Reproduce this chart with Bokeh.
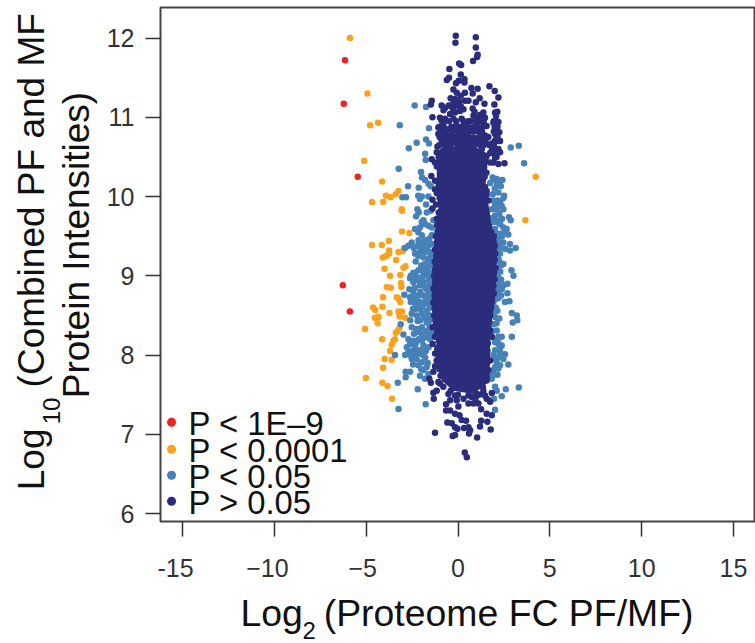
import math
from bokeh.plotting import figure
from bokeh.models import Label, FixedTicker
from bokeh.embed import file_html
from bokeh.resources import INLINE

# Values: (log2 fold change, log10 intensity)
red_pts = [(-6.15,11.72),(-6.22,11.17),(-5.46,10.25),(-6.27,8.88),(-5.89,8.55)]

orange_pts = [(-5.88,12.0),(-4.93,11.30),(-4.79,10.90),(-4.35,10.93),(-5.11,10.45),(-4.13,10.19),(4.23,10.25),(3.67,9.70),
 (-4.68,9.93),(-4.08,9.93),(-3.92,10.01),(-3.66,9.99),(-3.39,10.03),(-3.24,10.07),(-3.06,9.84),(-3.06,9.82),
 (-4.68,9.39),(-4.15,9.39),(-3.77,9.44),(-3.75,9.32),(-3.75,9.28),(-3.92,9.25),(-4.10,9.23),(-3.37,9.20),(-3.24,9.30),
 (-3.01,9.31),(-2.94,9.35),(-3.05,9.56),(-2.65,9.54),(-4.0,9.09),(-3.70,9.0),(-3.14,9.01),(-2.97,9.10),(-2.86,9.12),
 (-3.10,8.91),(-3.08,8.86),(-3.88,8.86),(-3.66,8.85),(-4.08,8.73),(-3.33,8.73),(-3.23,8.71),(-3.15,8.67),(-4.62,8.60),
 (-4.51,8.57),(-4.12,8.61),(-3.73,8.53),(-3.24,8.55),(-3.06,8.55),(-3.19,8.49),(-4.53,8.47),(-4.33,8.48),(-4.37,8.40),
 (-2.88,8.47),(-5.06,8.33),(-3.19,8.34),(-3.30,8.30),(-3.39,8.28),(-4.13,8.20),(-3.43,8.20),(-3.52,8.18),(-3.61,8.13),
 (-3.70,8.05),(-3.99,7.95),(-3.61,7.94),(-4.08,7.84),(-5.02,7.71),(-4.12,7.65),(-3.84,7.61),(-3.59,7.45)]

blue_pts = [(-2.36,11.15),(-1.74,11.13),(-3.17,10.90),(-1.58,10.86),(-1.74,10.72),(-1.58,10.67),(-2.25,10.68),(-2.68,10.61),
 (-1.79,10.54),(-1.76,10.46),(-3.23,10.35),(-2.01,10.31),(-1.96,10.24),(-1.79,10.21),(-2.72,10.13),(-2.14,10.11),
 (-1.61,10.16),(-1.48,10.13),(-3.03,9.99),(-2.83,9.99),(-2.17,10.01),(-2.07,9.97),(-1.97,10.0),(-1.61,10.0),(-1.74,9.90),
 (-2.21,9.84),(-2.14,9.80),(-1.70,9.80),(-1.48,9.82),(-2.28,9.75),(-1.97,9.68),(-1.79,9.65),(-2.07,9.61),(-2.34,9.59),
 (-1.61,9.63),(-1.43,9.61),(-1.88,9.70),(-1.34,9.70),
 (2.87,10.62),(3.31,10.64),(3.60,10.42),(1.89,10.24),(2.11,10.22),(2.42,10.21),(1.75,10.17),(2.11,10.16),(2.33,10.13),
 (1.89,10.03),(2.51,10.01),(2.47,9.98),(2.02,9.90),(2.38,9.88),(1.84,9.84),(2.11,9.84),(2.47,9.84),(2.02,9.76),(1.84,9.73),
 (2.78,9.74),(2.87,9.70),(2.2,9.67),(2.47,9.61),(2.02,9.59),(2.65,9.59),
 (1.95,10.22),(2.25,10.18),(2.0,10.1),(2.2,10.05),(1.9,9.95),(2.15,9.95),(2.3,9.92),(1.95,9.85),(2.25,9.78),(2.4,9.72),
 (2.1,9.7),(2.3,9.65),(2.55,9.55),(2.4,9.5),(1.95,9.68),
 (-2.16,9.55),(-1.97,9.51),(-1.43,9.51),(-1.16,9.55),(-2.52,9.42),(-2.7,9.38),(-2.88,9.35),(-2.07,9.38),(-1.61,9.38),
 (-1.43,9.40),(-1.7,9.34),(-1.79,9.30),(-2.07,9.30),(-2.34,9.28),(-2.16,9.25),(-1.88,9.23),(-1.52,9.30),(-1.61,9.21),
 (-1.43,9.17),(-1.79,9.15),(-1.7,9.09),(-1.97,9.07),(-2.16,9.07),(-2.43,9.04),(-2.57,9.0),(-2.61,8.97),(-2.25,8.98),
 (-1.97,8.98),(-1.79,9.02),(-1.52,9.04),(-2.16,8.94),(-1.88,8.92),(-1.61,8.94),(-2.07,8.88),(-1.79,8.86),(-1.52,8.88),
 (-2.65,8.83),(-2.43,8.81),(-2.92,8.76),(-2.61,8.73),(-2.57,8.67),(-2.39,8.69),(-2.16,8.75),(-1.88,8.75),(-1.61,8.77),
 (-1.48,8.81),(-2.07,8.67),(-1.79,8.65),(-1.52,8.69),(-2.34,8.58),(-2.07,8.58),(-1.7,8.56),(-2.52,8.52),(-2.25,8.50),
 (-1.97,8.52),(-1.61,8.50),(-3.12,8.39),(-2.52,8.35),(-2.25,8.33),(-1.97,8.35),(-1.7,8.41),(-1.52,8.45),(-2.97,8.26),
 (-2.25,8.29),(-1.97,8.25),(-1.56,8.25),(-1.52,8.20),(-2.7,8.20),(-2.43,8.18),(-2.61,8.14),(-2.79,8.10),(-2.34,8.10),
 (-1.97,8.18),(-1.88,8.12),(-2.07,8.06),(-2.7,8.04),(-2.88,8.0),(-3.43,8.0),(-2.52,7.95),(-2.34,8.0),(-2.07,8.02),
 (-1.79,7.97),(-1.97,7.91),(-2.16,7.87),(-2.25,7.95),(-2.61,7.79),(-2.85,7.79),(-2.85,7.72),(-1.88,7.81),(-2.07,7.74),
 (-1.61,7.76),(-3.28,7.65),(-2.19,7.57),(-1.76,7.38),(-3.24,7.32),
 (-2.43,8.92),(-2.3,8.62),(-2.6,8.44),(-2.2,8.43),(-2.4,8.27),(-2.15,8.2),(-2.6,8.0),(-1.75,8.05),(-2.45,7.88),(-1.9,9.42),
 (-2.3,9.18),(-2.0,9.13),(-1.55,9.12),(-1.45,8.95),(-1.5,8.6),(-1.55,8.35),(-1.6,8.1),(-2.35,8.85),(-2.05,8.8),(-1.8,9.45),
 (-1.6,9.45),(-1.5,9.25),(-1.9,9.35),(-1.65,9.12),(-1.55,8.98),(-1.9,9.0),(-2.0,8.9),(-1.7,8.83),(-1.45,8.73),(-1.75,8.7),
 (-1.95,8.6),(-1.55,8.62),(-1.8,8.47),(-1.6,8.42),(-2.05,8.44),(-1.75,8.3),(-2.1,8.3),(-1.5,8.3),(-1.8,8.22),(-2.3,8.15),
 (-2.5,8.05),(-2.2,8.05),(-1.9,8.0),(-1.65,7.9),(-2.45,7.98),(-2.0,7.82),(-1.8,7.7),(-1.7,7.85),(-2.15,9.45),(-2.4,9.35),
 (-2.2,9.38),(-1.55,9.47),(-1.5,9.0),(-2.3,9.0),(-2.45,8.75),(-2.45,8.58),(-2.2,8.68),(-1.55,8.5),(-1.4,8.25),
 (2.02,9.55),(2.29,9.53),(2.74,9.52),(2.11,9.46),(2.47,9.42),(2.83,9.40),(3.14,9.35),(2.83,9.32),(2.29,9.36),(2.56,9.34),
 (2.11,9.38),(2.29,9.28),(2.2,9.21),(2.47,9.15),(2.34,9.13),(2.11,9.07),(2.91,9.07),(3.02,9.0),(2.29,8.90),(2.47,8.88),
 (2.69,8.90),(2.38,8.83),(2.2,8.81),(2.02,8.75),(2.69,8.78),(2.11,8.71),(2.56,8.67),(2.8,8.68),(1.93,8.67),(2.14,8.56),
 (2.02,8.48),(2.93,8.53),(3.2,8.50),(3.23,8.44),(2.98,8.41),(2.25,8.46),(1.93,8.39),(2.11,8.31),(2.2,8.23),(2.38,8.23),
 (2.93,8.23),(2.02,8.16),(2.2,8.14),(2.38,8.12),(2.02,8.06),(2.29,8.04),(2.56,8.01),(1.93,8.0),(2.47,7.95),(2.11,7.91),
 (2.74,7.88),(2.29,7.87),(2.02,7.85),(1.93,7.81),(2.2,7.83),(1.87,7.76),(1.84,7.70),(2.02,7.60),(2.6,7.57),(3.31,7.59),
 (2.11,7.55),(1.96,7.45),(2.38,7.48),(1.75,7.43),(2.02,7.31),
 (1.95,9.48),(2.2,9.45),(2.2,9.3),(2.25,9.18),(2.3,9.05),(2.2,8.98),(2.15,8.87),(2.35,8.95),(2.2,8.72),(2.35,8.75),(2.05,8.6),
 (1.95,8.55),(2.1,8.4),(2.0,8.2),(1.85,8.3),(2.15,8.18),(2.3,8.1),(2.1,7.97),(2.25,7.98),(2.0,7.95),(2.15,7.75),(1.95,7.75),(2.3,9.42)]

navy_pts = [(-0.12,12.03),(0.97,12.01),(-0.14,11.94),(0.97,11.88),(1.07,11.79),(1.04,11.76),(0.82,11.71),(0.06,11.68),(0.17,11.66),
 (-0.47,11.61),(0.15,11.54),(-0.49,11.50),(-0.61,11.47),(0.35,11.48),(0.35,11.44),(0.04,11.46),(-0.11,11.43),(0.73,11.37),
 (1.07,11.36),(1.71,11.39),(2.0,11.33),(2.2,11.25),(-0.25,11.35),(-0.07,11.31),(0.8,11.30),(0.38,11.31),(-0.4,11.24),
 (-0.16,11.23),(0.15,11.27),(0.38,11.21),(0.57,11.21),(1.18,11.24),(0.97,11.19),(1.44,11.17),(1.98,11.16),(-1.43,11.21),
 (-1.48,11.16),(-0.89,11.15),(-0.79,11.09),(-0.25,11.08),(0.11,11.10),(0.8,11.11),(-1.39,11.0),(-0.98,10.995),
 (-0.43,11.04),(-0.16,11.06),(0.11,11.08),(0.84,11.02),(1.11,10.995),(1.38,11.06),(1.47,10.995),(2.02,11.06),(2.14,11.07),
 (2.07,11.02),(2.2,10.94),(1.93,10.93),(1.29,10.955),(0.66,10.95),(0.2,10.98),(-0.25,10.98),(-0.7,10.98),(-0.89,10.955),
 (-1.07,10.87),(-0.79,10.89),(-0.52,10.85),(-0.07,10.83),(0.29,10.87),(0.75,10.87),(1.2,10.85),(1.56,10.89),(2.11,10.87),
 (2.25,10.81),(-1.07,10.79),(-0.52,10.77),(0.11,10.79),(0.84,10.745),(1.47,10.77),(2.02,10.79),(2.29,10.70),(-0.89,10.71),
 (-0.25,10.68),(0.29,10.77),(1.02,10.70),(1.84,10.67),(2.11,10.745),(-1.12,10.63),(-1.16,10.56),(2.2,10.60),(2.29,10.56),
 (2.02,10.49),(1.56,10.51),(-1.43,10.47),(-1.25,10.43),(2.53,10.42),(2.2,10.41),(1.93,10.43),(-1.45,10.26),(-1.25,10.2),
 (-1.25,10.09),(-1.39,9.96),(-1.39,9.85),(1.56,10.07),(1.65,9.95),(1.56,9.78),(1.47,9.67),
 (-1.38,8.35),(-1.25,8.23),(-1.38,8.14),(-1.07,8.10),(-1.25,8.02),(-1.16,7.93),(-1.25,7.86),(-1.34,7.79),(-1.56,7.70),
 (-1.48,7.65),(-1.07,7.66),(-1.16,7.55),(-1.34,7.525),(-1.32,7.45),(-0.8,7.6),(-0.98,7.64),(-0.52,7.51),(-0.16,7.49),
 (-0.07,7.43),(-0.43,7.43),(-0.65,7.38),(0.57,7.39),(0.84,7.39),(1.11,7.39),(0.57,7.49),(1.02,7.51),(1.38,7.55),(1.47,7.49),
 (1.75,7.41),(1.84,7.52),(1.56,7.45),(0.02,7.35),(-0.65,7.30),(-0.43,7.30),(-0.16,7.26),(0.08,7.24),(1.26,7.315),(1.56,7.26),
 (1.84,7.24),(0.2,7.18),(0.44,7.17),(-0.58,7.15),(-0.34,7.14),(-0.16,7.09),(-0.03,7.07),(0.33,7.08),(0.57,7.09),(0.66,7.05),
 (0.6,7.01),(1.26,7.17),(1.2,7.10),(1.6,7.16),(1.78,7.06),(-1.25,7.02),(-0.29,6.98),(-0.16,6.99),(1.04,6.96),(0.37,6.77),
 (0.48,6.71),(1.56,7.72),(1.65,7.81),(1.75,7.93),(1.56,7.68),(1.84,8.23),(1.75,8.31),
 (-0.8,10.95),(-0.5,10.95),(-0.1,10.95),(0.3,10.95),(0.55,10.95),(0.95,10.95),(1.15,10.95),(1.4,10.95),(1.95,10.95),(2.1,10.95),
 (-1.0,10.88),(-0.85,10.88),(-0.35,10.88),(-0.15,10.88),(0.05,10.88),(0.25,10.88),(0.5,10.88),(0.9,10.88),(1.05,10.88),(1.35,10.88),(2.0,10.88),(2.15,10.88),
 (-0.95,10.82),(-0.7,10.82),(-0.3,10.82),(0.2,10.82),(0.45,10.82),(0.6,10.82),(0.85,10.82),(1.1,10.82),(1.3,10.82),(1.95,10.82),(2.1,10.82),
 (-1.0,10.75),(-0.75,10.75),(-0.4,10.75),(-0.2,10.75),(0.0,10.75),(0.4,10.75),(0.6,10.75),(1.15,10.75),(1.3,10.75),(1.65,10.75),(2.15,10.75),
 (-0.8,10.70),(-0.6,10.70),(-0.35,10.70),(-0.1,10.70),(0.15,10.70),(0.35,10.70),(0.55,10.70),(0.8,10.70),(1.25,10.70),(1.5,10.70),(2.0,10.70),(2.2,10.70),
 (-1.0,10.65),(-0.7,10.65),(-0.4,10.65),(0.0,10.65),(0.3,10.65),(0.6,10.65),(0.9,10.65),(1.2,10.65),(1.4,10.65),(1.7,10.65),(1.95,10.65),
 (2.05,10.60),(1.85,10.60),(1.3,10.60),(1.75,10.55),(1.95,10.54),(2.1,10.5),(1.75,10.43),
 (-0.7,11.12),(-0.5,11.15),(-0.3,11.12),(-0.05,11.15),(0.15,11.14),(0.3,11.1),(0.05,11.2),(-0.25,11.18),(0.9,11.07),(1.2,11.03),(1.35,11.0),(1.0,10.98),
 (-1.05,10.5),(-1.15,10.38),(-0.95,10.3),(-1.05,10.14),(-1.15,10.04),(-1.0,9.98),(-1.2,9.9),(-1.05,9.8),(-1.15,9.72),(-1.13,9.64),
 (-1.2,9.5),(-1.15,9.42),(-1.25,9.33),(-1.18,9.25),(-1.27,9.18),(-1.25,9.08),(-1.3,9.0),(-1.23,8.92),(-1.33,8.84),(-1.27,8.75),
 (-1.35,8.66),(-1.27,8.58),(-1.3,8.5),(-1.2,8.44),(-1.15,8.28),(-1.05,8.18),(-1.13,8.08),(-1.05,7.98),(-1.0,7.82),(-0.95,7.74),
 (1.5,10.48),(1.55,10.3),(1.45,10.25),(1.47,10.12),(1.55,10.02),(1.47,9.88),(1.57,9.72),(1.7,9.62),(1.8,9.55),(1.95,9.5),
 (2.0,9.38),(2.03,9.28),(2.0,9.2),(2.05,9.1),(1.97,9.03),(2.0,8.95),(1.93,8.87),(1.95,8.78),(1.85,8.68),(1.8,8.6),(1.75,8.5),
 (1.7,8.42),(1.65,8.35),(1.63,8.15),(1.6,8.05),(1.57,7.95),(1.5,7.85),(1.55,7.75),(1.35,7.6),(1.15,7.5),(0.95,7.45),(0.75,7.47),
 (0.3,7.45),(0.0,7.5),(-0.4,7.55)]

# The overplotted centre, where single points cannot be told apart: its outline
core_x = [-1.15,-0.9,0.2,1.0,1.56,1.6,1.5,1.56,1.84,2.11,2.11,2.02,1.75,1.75,1.56,0.84,-0.25,-0.89,-1.16,-1.16,-1.38,-1.43,-1.38,-1.25,-1.07,-1.16]
core_y = [10.55,10.62,10.64,10.62,10.55,10.37,10.15,10.05,9.61,9.44,9.15,8.73,8.31,7.89,7.64,7.51,7.55,7.68,7.89,8.18,8.39,8.73,9.15,9.57,9.86,10.2]

NB = "\u00a0"
x_ticks = [-15,-10,-5,0,5,10,15]
x_tick_labels = {-15:"-15"+NB*2,-10:"\u221210"+NB*2,-5:"\u22125"+NB,0:"0",5:"5",10:"10",15:"15"}
y_ticks = [6,7,8,9,10,11,12]
legend_labels = ["P < 1E\u20139","P < 0.0001","P < 0.05","P > 0.05"]

RED,ORANGE,BLUE,NAVY = "#EE2127","#FAA21C","#4682B7","#2B2C7C"
legend_colors = [RED,ORANGE,BLUE,NAVY]

p = figure(width=755, height=643, output_backend="svg", toolbar_location=None,
           x_range=(-16.2,16.2), y_range=(5.90,12.385),
           min_border_left=160, min_border_right=0, min_border_top=7, min_border_bottom=122)
p.grid.visible = False
p.outline_line_color = "#444444"; p.outline_line_width = 2
for ax, ticks in ((p.xaxis, x_ticks),(p.yaxis, y_ticks)):
    ax.ticker = FixedTicker(ticks=ticks)
    ax.axis_line_color = None
    ax.major_tick_in = 0; ax.major_tick_out = 15
    ax.minor_tick_line_color = None
    ax.major_tick_line_color = "#333333"; ax.major_tick_line_width = 1.5
    ax.major_label_text_font = "Liberation Sans"
    ax.major_label_text_font_size = "25px"
    ax.major_label_text_color = "#333333"
p.xaxis.major_label_overrides = x_tick_labels
p.xaxis.major_label_standoff = 17
p.yaxis.major_label_standoff = 11

def draw(pts, c):
    p.scatter([a for a,_ in pts],[b for _,b in pts],size=6.5,color=c,line_width=0)

draw(orange_pts, ORANGE)
draw(blue_pts, BLUE)
p.patch(core_x, core_y, color=NAVY, line_width=0)
draw(navy_pts, NAVY)
draw(red_pts, RED)

# annotation helpers: page pixel -> data position
fx = lambda px: (px-457.5)/18.367
fy = lambda py: 12-(py-37.7)/79.27

legend_py = [422,449,475,501]
p.scatter([fx(171)]*4,[fy(v) for v in legend_py],size=9,color=legend_colors,line_width=0)
for t,py in zip(legend_labels,legend_py):
    p.add_layout(Label(x=fx(188),y=fy(py+1.5),text=t,text_font="Liberation Sans",text_font_size="32.8px",
                       text_color="#111111",text_baseline="middle",text_align="left"))

def lab(px,py,t,size,side,angle=0):
    p.add_layout(Label(x=fx(px),y=fy(py),text=t,text_font="Liberation Sans",text_font_size=size,
                       text_color="#111111",text_baseline="alphabetic",text_align="left",angle=angle),side)

lab(240,613,"Log"+NB*2+"(Proteome FC PF/MF)","37.4px","below")
lab(302,630,"2","24px","below")
up = math.pi/2
lab(31,490,"Log"+NB*4+"(Combined PF and MF","37px","left",up)
lab(51,424,"10","24px","left",up)
lab(75.5,398,"Protein Intensities)","37px","left",up)

open("out.html","w").write(file_html(p, INLINE))
